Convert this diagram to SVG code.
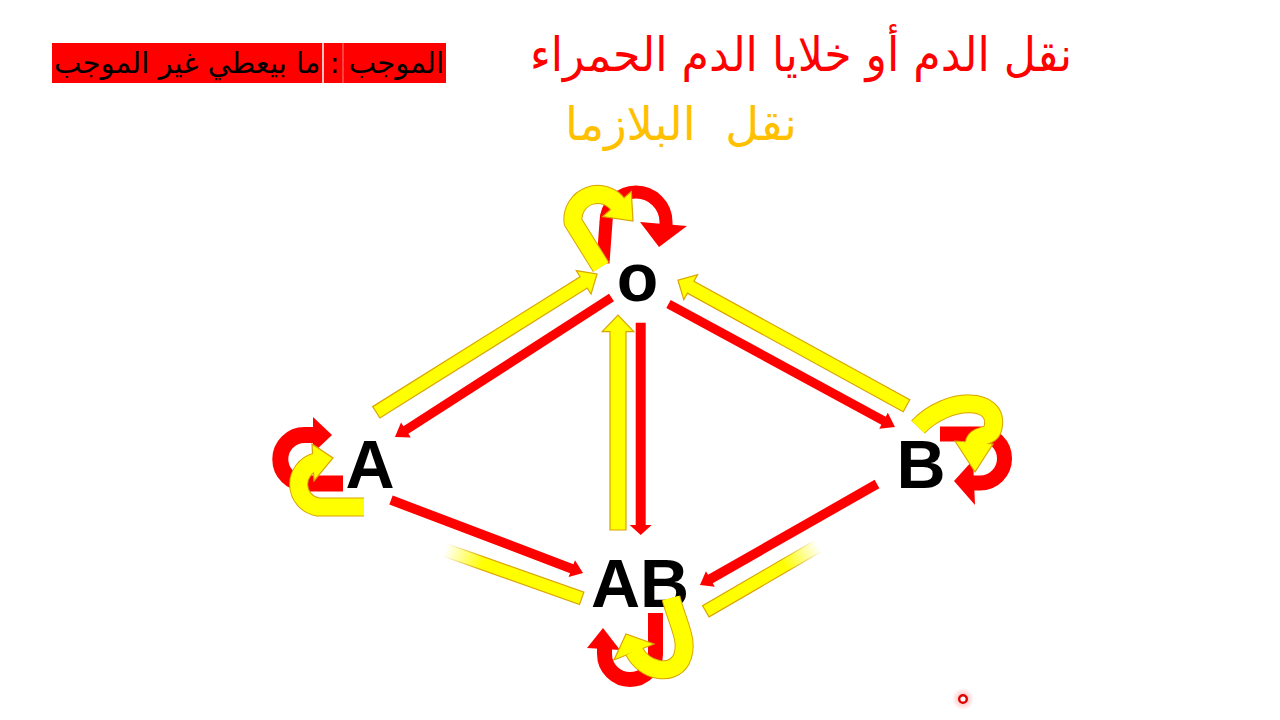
<svg xmlns="http://www.w3.org/2000/svg" width="1280" height="720" viewBox="0 0 1280 720">
<style>
.ar{font-family:'DejaVu Sans',sans-serif;text-anchor:middle}
.lbl{font-family:'Liberation Sans',Arial,sans-serif;font-weight:bold;font-size:68px;fill:#000;text-anchor:middle}
.ya{fill:#FFFF00;stroke:#D9A400;stroke-width:1.2;stroke-linejoin:miter}
.ra{fill:#FF0000}
.yo{fill:none;stroke:#D9A400;stroke-width:19;stroke-linejoin:round}
.yi{fill:none;stroke:#FFFF00;stroke-width:17;stroke-linejoin:round}
.rl{fill:none;stroke:#FF0000;stroke-linejoin:round}
</style>
<defs>
<linearGradient id="fadeY" gradientUnits="userSpaceOnUse" x1="0" y1="0" x2="145" y2="0">
<stop offset="0.72" stop-color="#FFFF00" stop-opacity="1"/>
<stop offset="1" stop-color="#FFFF00" stop-opacity="0"/>
</linearGradient>
<linearGradient id="fadeS" gradientUnits="userSpaceOnUse" x1="0" y1="0" x2="145" y2="0">
<stop offset="0.72" stop-color="#D9A400" stop-opacity="1"/>
<stop offset="1" stop-color="#D9A400" stop-opacity="0"/>
</linearGradient>
<linearGradient id="fadeY2" gradientUnits="userSpaceOnUse" x1="0" y1="0" x2="130" y2="0">
<stop offset="0.7" stop-color="#FFFF00" stop-opacity="1"/>
<stop offset="1" stop-color="#FFFF00" stop-opacity="0"/>
</linearGradient>
<linearGradient id="fadeS2" gradientUnits="userSpaceOnUse" x1="0" y1="0" x2="130" y2="0">
<stop offset="0.7" stop-color="#D9A400" stop-opacity="1"/>
<stop offset="1" stop-color="#D9A400" stop-opacity="0"/>
</linearGradient>
<radialGradient id="glow">
<stop offset="0" stop-color="#FF0000" stop-opacity="0.35"/>
<stop offset="1" stop-color="#FF0000" stop-opacity="0"/>
</radialGradient>
</defs>
<rect width="1280" height="720" fill="#FFFFFF"/>

<g id="legend">
<rect x="52" y="43" width="394" height="40" fill="#FF0000"/>
<line x1="323" y1="43" x2="323" y2="83" stroke="#FFFFFF" stroke-width="1.5"/>
<line x1="343" y1="43" x2="343" y2="83" stroke="#FF8080" stroke-width="1"/>
<text class="ar" x="249" y="73" font-size="29" fill="#000" textLength="390" lengthAdjust="spacingAndGlyphs">الموجب : ما بيعطي غير الموجب</text>
</g>

<g id="titles">
<text class="ar" x="801" y="71" font-size="47" fill="#FF0000" textLength="542" lengthAdjust="spacingAndGlyphs">نقل الدم أو خلايا الدم الحمراء</text>
<text class="ar" x="681" y="140" font-size="46" fill="#FFC000" textLength="232" lengthAdjust="spacingAndGlyphs" xml:space="preserve">نقل&#160; البلازما</text>
</g>

<g id="node-O"><text class="lbl" x="637.5" y="301" font-size="74">o</text></g>
<g id="node-A"><text class="lbl" x="370" y="488">A</text></g>
<g id="node-B"><text class="lbl" x="921" y="488">B</text></g>
<g id="node-AB"><text class="lbl" x="640" y="607">AB</text></g>

<g id="connectors">
<!-- A <-> O -->
<polygon class="ya" transform="translate(376.3,412.3) rotate(-32.07)" points="0,-6.7 244.7,-6.7 244.7,-13.9 260.5,0 244.7,13.9 244.7,6.7 0,6.7"/>
<polygon class="ra" transform="translate(611.5,297.5) rotate(147.2)" points="0,-4.6 244.6,-4.6 244.6,-9 257.6,0 244.6,9 244.6,4.6 0,4.6"/>
<!-- O <-> B -->
<polygon class="ra" transform="translate(668.5,304) rotate(28.5)" points="0,-4.6 244.7,-4.6 244.7,-9 257.7,0 244.7,9 244.7,4.6 0,4.6"/>
<polygon class="ya" transform="translate(906.5,405.8) rotate(-151.2)" points="0,-6.8 246.3,-6.8 246.3,-14.3 260.8,0 246.3,14.3 246.3,6.8 0,6.8"/>
<!-- O <-> AB -->
<polygon class="ya" transform="translate(618,530) rotate(-90)" points="0,-8 198.3,-8 198.3,-15.8 215,0 198.3,15.8 198.3,8 0,8"/>
<polygon class="ra" transform="translate(640.7,322.7) rotate(90)" points="0,-5 202.3,-5 202.3,-11 212.3,0 202.3,11 202.3,5 0,5"/>
<!-- A <-> AB -->
<polygon class="ra" transform="translate(391,500) rotate(20.8)" points="0,-4.8 193.4,-4.8 193.4,-9 205.4,0 193.4,9 193.4,4.8 0,4.8"/>
<rect transform="translate(581.7,598.3) rotate(-160.5)" x="0" y="-6.5" width="145" height="13" fill="url(#fadeY)" stroke="url(#fadeS)" stroke-width="1.2"/>
<!-- B <-> AB -->
<polygon class="ra" transform="translate(877,484) rotate(150.3)" points="0,-4.8 191.8,-4.8 191.8,-9 203.8,0 191.8,9 191.8,4.8 0,4.8"/>
<rect transform="translate(705.8,611.3) rotate(-30.2)" x="0" y="-6.5" width="130" height="13" fill="url(#fadeY2)" stroke="url(#fadeS2)" stroke-width="1.2"/>

<!-- self loop O -->
<path class="rl" stroke-width="13" d="M603,263 L606,222 A30,30 0 0 1 666,222 L666,227"/>
<polygon class="ra" points="640,222 687,226 659,247"/>
<path class="yo" d="M601,267 L573,222 A25,25 0 0 1 618.5,205.3"/>
<polygon class="ya" points="602.8,216.5 631.3,191.5 633,221"/>
<path class="yi" d="M601,267 L573,222 A25,25 0 0 1 618.5,205.3"/>

<!-- self loop A -->
<path class="rl" stroke-width="16" d="M343,483.5 L304.5,483.5 A24.25,24.25 0 0 1 304.5,435 L315,435"/>
<polygon class="ra" points="313,417 313,453 332,435"/>
<path class="yo" d="M364,507 L318,507 A23,23 0 0 1 316,462"/>
<polygon class="ya" points="312,444 314,481 333,458"/>
<path class="yi" d="M364,507 L318,507 A23,23 0 0 1 316,462"/>

<!-- self loop B -->
<path class="rl" stroke-width="15" d="M940,434 L980,434 A24.5,24.5 0 0 1 980,483 L972,483"/>
<polygon class="ra" points="973,460 975,505 954,481"/>
<path class="yo" d="M918,427 C948,396 1000,396 993,428 C990,440 974,432 974,446"/>
<polygon class="ya" points="955,441 993,444 975,472"/>
<path class="yi" d="M918,427 C948,396 1000,396 993,428 C990,440 974,432 974,446"/>

<!-- self loop AB -->
<path class="rl" stroke-width="15" d="M655.5,613 L655.5,654 A25.5,25.5 0 0 1 604.5,654 L604.5,647"/>
<polygon class="ra" points="587,648 620,650 603,628"/>
<path class="yo" d="M671,598 C678,625 690,642 681,660 C672,676 645,672 634,651"/>
<polygon class="ya" points="654,644 614,660 626,634"/>
<path class="yi" d="M671,598 C678,625 690,642 681,660 C672,676 645,672 634,651"/>
</g>

<g id="pointer">
<circle cx="963" cy="699" r="11" fill="url(#glow)"/>
<circle cx="963" cy="699" r="3.8" fill="#FFFFFF" stroke="#E00000" stroke-width="2.4"/>
</g>
</svg>
